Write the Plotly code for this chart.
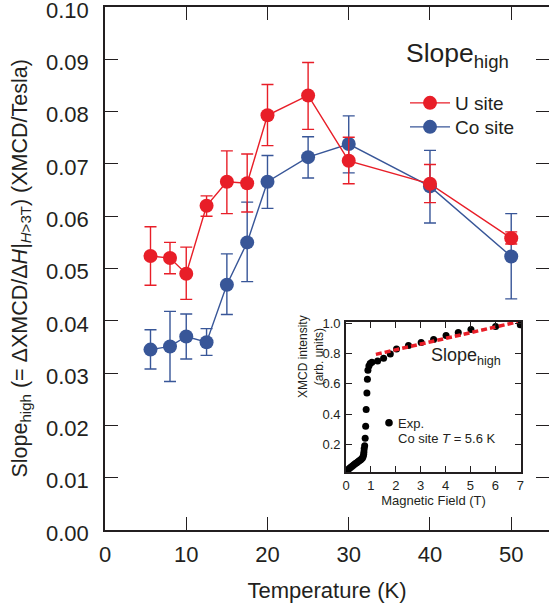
import plotly.graph_objects as go

# ---------------- data ----------------
temperature = [5.6, 8, 10, 12.5, 15, 17.5, 20, 25, 30, 40, 50]
u_val = [0.0524, 0.0520, 0.0490, 0.0620, 0.0666, 0.0663, 0.0793, 0.0831, 0.0706, 0.0662, 0.0558]
u_hi = [0.0580, 0.0550, 0.0541, 0.0639, 0.0725, 0.0719, 0.0852, 0.0894, 0.0751, 0.0699, 0.0570]
u_lo = [0.0468, 0.0490, 0.0441, 0.0600, 0.0605, 0.0608, 0.0735, 0.0766, 0.0662, 0.0626, 0.0547]
co_val = [0.0345, 0.0351, 0.0370, 0.0359, 0.0469, 0.0550, 0.0666, 0.0713, 0.0738, 0.0657, 0.0523]
co_hi = [0.0383, 0.0418, 0.0413, 0.0385, 0.0528, 0.0627, 0.0716, 0.0752, 0.0792, 0.0726, 0.0605]
co_lo = [0.0308, 0.0284, 0.0327, 0.0334, 0.0412, 0.0475, 0.0615, 0.0673, 0.0683, 0.0587, 0.0442]

field = [0.03, 0.08, 0.13, 0.18, 0.23, 0.28, 0.33, 0.38, 0.43, 0.48, 0.53, 0.58, 0.62, 0.66,
         0.69, 0.71, 0.72, 0.73, 0.75, 0.77, 0.79, 0.81, 0.84, 0.86, 0.88, 0.92, 0.97, 1.04,
         1.27, 1.51, 1.78, 2.03, 2.51, 3.02, 3.52, 4.02, 4.51, 5.02, 6.01, 7.0]
xmcd = [0.024, 0.032, 0.040, 0.047, 0.054, 0.060, 0.067, 0.073, 0.079, 0.085, 0.091, 0.097, 0.103, 0.110,
        0.120, 0.135, 0.150, 0.170, 0.190, 0.240, 0.320, 0.430, 0.540, 0.630, 0.690, 0.718, 0.735, 0.742,
        0.751, 0.770, 0.797, 0.830, 0.854, 0.874, 0.894, 0.920, 0.940, 0.960, 0.980, 0.990]
fit_field = [1.2, 6.9]
fit_xmcd = [0.795, 1.01]

x_ticks = [0, 10, 20, 30, 40, 50]
y_ticks = [0.00, 0.01, 0.02, 0.03, 0.04, 0.05, 0.06, 0.07, 0.08, 0.09, 0.10]

RED = "rgb(232,30,40)"
BLUE = "rgb(56,86,152)"
INK = "#231f20"
FONT = "Liberation Sans, Arial, sans-serif"


def err(val, hi, lo):
    return ([h - v for v, h in zip(val, hi)], [v - l for v, l in zip(val, lo)])


fig = go.Figure()

co_p, co_m = err(co_val, co_hi, co_lo)
fig.add_trace(go.Scatter(
    x=temperature, y=co_val, name="Co site", mode="lines+markers",
    line=dict(color=BLUE, width=1.4), marker=dict(color=BLUE, size=14),
    error_y=dict(type="data", array=co_p, arrayminus=co_m, color=BLUE, thickness=1.4, width=6),
    legend="legend2", xaxis="x", yaxis="y"))

u_p, u_m = err(u_val, u_hi, u_lo)
fig.add_trace(go.Scatter(
    x=temperature, y=u_val, name="U site", mode="lines+markers",
    line=dict(color=RED, width=1.4), marker=dict(color=RED, size=14),
    error_y=dict(type="data", array=u_p, arrayminus=u_m, color=RED, thickness=1.4, width=6),
    legend="legend", xaxis="x", yaxis="y"))

# inset
fig.add_trace(go.Scatter(
    x=field, y=xmcd, mode="markers", marker=dict(color="black", size=7),
    showlegend=False, xaxis="x2", yaxis="y3"))
fig.add_trace(go.Scatter(
    x=fit_field, y=fit_xmcd, mode="lines", line=dict(color=RED, width=3.5, dash="6px,3px"),
    showlegend=False, xaxis="x2", yaxis="y3"))

W, H = 549, 608
L, R, T, B = 105, 0, 7, 78
pw, ph = W - L - R, H - T - B


def px(xp):
    return (xp - L) / pw


def py(yp):
    return (H - B - yp) / ph


axis_common = dict(showgrid=False, zeroline=False, showline=True, linecolor=INK, linewidth=1.6,
                   ticks="inside", tickcolor=INK, tickwidth=1.4, automargin=False)

leg_common = dict(xanchor="left", yanchor="middle", font=dict(size=19, color=INK),
                  bgcolor="rgba(0,0,0,0)", borderwidth=0, itemwidth=40)

fig.update_layout(
    width=W, height=H,
    margin=dict(l=L, r=R, t=T, b=B, autoexpand=False),
    paper_bgcolor="white", plot_bgcolor="white",
    font=dict(family=FONT, color=INK),
    xaxis=dict(range=[0, 54.65], tickvals=x_ticks, ticklen=13, mirror="ticks",
               tickfont=dict(size=22), ticklabelstandoff=4,
               title=dict(text="Temperature (K)", font=dict(size=22), standoff=16),
               domain=[0, 1], anchor="y", **axis_common),
    yaxis=dict(range=[0, 0.10001], tickvals=y_ticks, tickformat=".2f", ticklen=13,
               tickfont=dict(size=22), ticklabelstandoff=10, ticklabelshift=3,
               ticklabeloverflow="allow", domain=[0, 1], anchor="x", **axis_common),
    yaxis2=dict(range=[0, 0.10001], tickvals=y_ticks, overlaying="y", side="right", anchor="x",
                showgrid=False, zeroline=False, showline=False, ticks="inside", ticklen=13,
                tickcolor=INK, tickwidth=1.4, showticklabels=False, automargin=False),
    xaxis2=dict(range=[0, 7.03], dtick=1, tick0=0, ticklen=6, mirror="ticks",
                domain=[px(346), px(521)], anchor="y3",
                tickfont=dict(size=13), ticklabelstandoff=1,
                title=dict(text="Magnetic Field (T)", font=dict(size=13), standoff=2),
                **axis_common),
    yaxis3=dict(range=[0.017, 1.009], tickvals=[0.2, 0.4, 0.6, 0.8, 1.0], tickformat=".1f",
                ticklen=6, mirror="ticks", domain=[py(472), py(322)], anchor="x2",
                tickfont=dict(size=13), ticklabelstandoff=1, **axis_common),
    legend=dict(x=px(405), y=py(103), **leg_common),
    legend2=dict(x=px(405), y=py(127), **leg_common),
    showlegend=True,
)

fig.add_trace(go.Scatter(x=[None], y=[None], showlegend=False, xaxis="x", yaxis="y2"))

annotations = [
    dict(text="Slope<sub>high</sub> (= ΔXMCD/Δ<i>H</i>|<sub><i>H</i>>3T</sub>) (XMCD/Tesla)",
         x=px(21), y=py(268.5), xref="paper", yref="paper", textangle=-90,
         xanchor="center", yanchor="middle", showarrow=False, font=dict(size=21.5)),
    dict(text="Slope<sub>high</sub>", x=px(404), y=py(55), xref="paper", yref="paper",
         xanchor="left", yanchor="middle", showarrow=False, font=dict(size=26.5)),
    dict(text="Slope<sub>high</sub>", x=px(429), y=py(356), xref="paper", yref="paper",
         xanchor="left", yanchor="middle", showarrow=False, font=dict(size=18)),
    dict(text="Exp.", x=px(396), y=py(423), xref="paper", yref="paper",
         xanchor="left", yanchor="middle", showarrow=False, font=dict(size=13)),
    dict(text="Co site <i>T</i> = 5.6 K", x=px(396), y=py(438), xref="paper", yref="paper",
         xanchor="left", yanchor="middle", showarrow=False, font=dict(size=13)),
    dict(text="XMCD intensity<br>(arb. units)", x=px(311), y=py(357), xref="paper", yref="paper",
         textangle=-90, xanchor="center", yanchor="middle", showarrow=False, font=dict(size=12)),
]
fig.update_layout(annotations=annotations)

fig.add_shape(type="circle", xref="paper", yref="paper", xsizemode="pixel", ysizemode="pixel",
              xanchor=px(389), yanchor=py(422.7), x0=-3.8, x1=3.8, y0=-3.8, y1=3.8,
              fillcolor="black", line=dict(width=0))

fig.write_html("out.html", config={"displayModeBar": False},
               post_script="document.body.style.margin='0';")
